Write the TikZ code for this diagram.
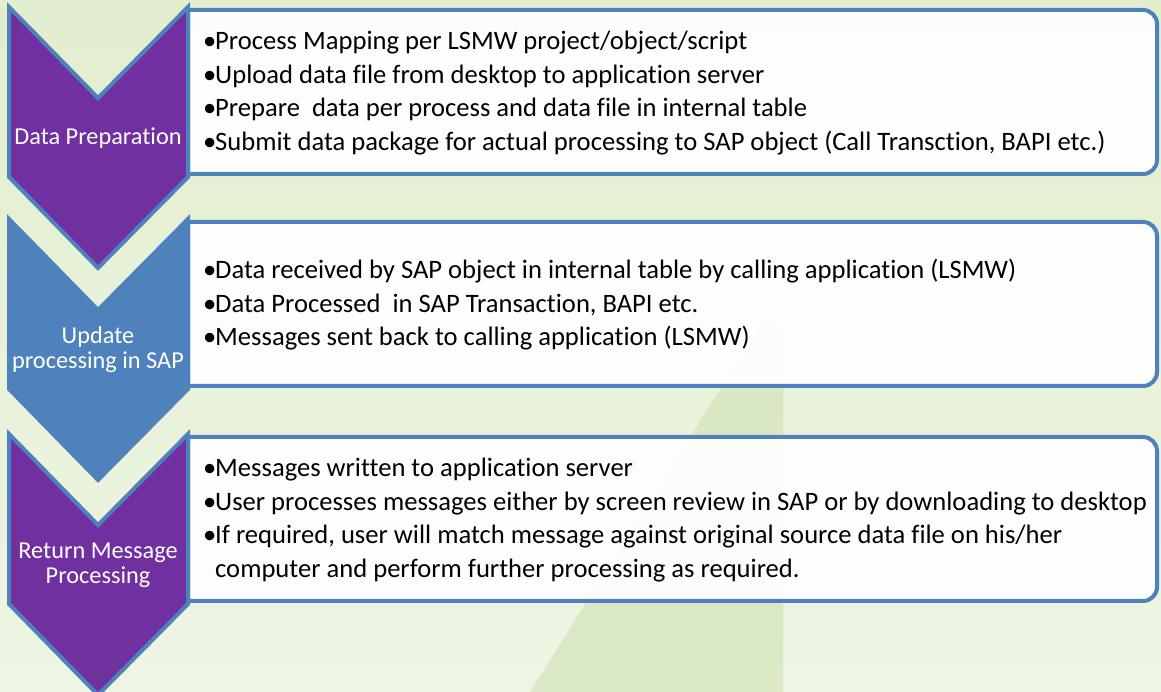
\documentclass[tikz,border=0pt]{standalone}
\usepackage{fontspec}
\setmainfont{Carlito}[Ligatures=NoCommon]
\usetikzlibrary{positioning}
\definecolor{cpurple}{HTML}{7030A0}
\definecolor{cblue}{HTML}{4F81BD}
\definecolor{bgtop}{HTML}{E2EECE}
\definecolor{bgbot}{HTML}{EEF5E3}
\definecolor{bgband}{HTML}{D3E5BA}
\newcommand{\bul}{\makebox[12pt][l]{\textbullet}}
\tikzset{
  every picture/.style={x=1pt, y=1pt},
  stageshape/.style={draw=cblue, fill=#1, line width=4pt, line join=miter},
  panel/.style={draw=cblue, fill=white, fill opacity=0.93, line width=4pt},
  stagelabel/.style={text=white, align=center, inner sep=0pt, font=\fontsize{24.3}{25}\selectfont},
  bullets/.style={anchor=west, align=left, inner sep=0pt, font=\fontsize{26.6}{33.5}\selectfont},
}

\begin{document}
\begin{tikzpicture}
  \useasboundingbox (0,0) rectangle (1161,692);
  % background
  \shade[top color=bgtop, bottom color=bgbot] (0,0) rectangle (1161,692);
  \fill[bgband, opacity=0.7] (765,374) -- (783,362) -- (783,0) -- (530,0) -- cycle;
  % stage 1
  \begin{scope}[yshift=685pt]
    \draw[panel] (188,-3) -- (1143,-3) arc[start angle=90, end angle=0, radius=14] -- (1157,-153) arc[start angle=0, end angle=-90, radius=14] -- (188,-167) -- cycle;
    \draw[stageshape=cpurple] (9,0) -- (98,-91) -- (188,0) -- (188,-170) -- (98,-261) -- (9,-170) -- cycle;
    \node[stagelabel] (prepLabel) at (98,-131) {Data Preparation};
    \node[bullets] (prepText) at (203,-86) {\bul Process Mapping per LSMW project/object/script\\
      \bul Upload data file from desktop to application server\\
      \bul Prepare\ \ data per process and data file in internal table\\
      \bul Submit data package for actual processing to SAP object (Call Transction, BAPI etc.)};
  \end{scope}
  % stage 2
  \begin{scope}[yshift=473pt]
    \draw[panel] (188,-3) -- (1143,-3) arc[start angle=90, end angle=0, radius=14] -- (1157,-153) arc[start angle=0, end angle=-90, radius=14] -- (188,-167) -- cycle;
    \draw[stageshape=cblue] (9,0) -- (98,-91) -- (188,0) -- (188,-170) -- (98,-261) -- (9,-170) -- cycle;
    \node[stagelabel] (updLabel) at (98,-131) {Update\\processing in SAP};
    \node[bullets] (updText) at (203,-86) {\bul Data received by SAP object in internal table by calling application (LSMW)\\
      \bul Data Processed\ \ in SAP Transaction, BAPI etc.\\
      \bul Messages sent back to calling application (LSMW)};
  \end{scope}
  % stage 3
  \begin{scope}[yshift=258pt]
    \draw[panel] (188,-3) -- (1143,-3) arc[start angle=90, end angle=0, radius=14] -- (1157,-153) arc[start angle=0, end angle=-90, radius=14] -- (188,-167) -- cycle;
    \draw[stageshape=cpurple] (9,0) -- (98,-91) -- (188,0) -- (188,-170) -- (98,-261) -- (9,-170) -- cycle;
    \node[stagelabel] (retLabel) at (98,-131) {Return Message\\Processing};
    \node[bullets] (retText) at (203,-86) {\bul Messages written to application server\\
      \bul User processes messages either by screen review in SAP or by downloading to desktop\\
      \bul If required, user will match message against original source data file on his/her\\
      \hspace*{12pt}computer and perform further processing as required.};
  \end{scope}
\end{tikzpicture}
\end{document}
